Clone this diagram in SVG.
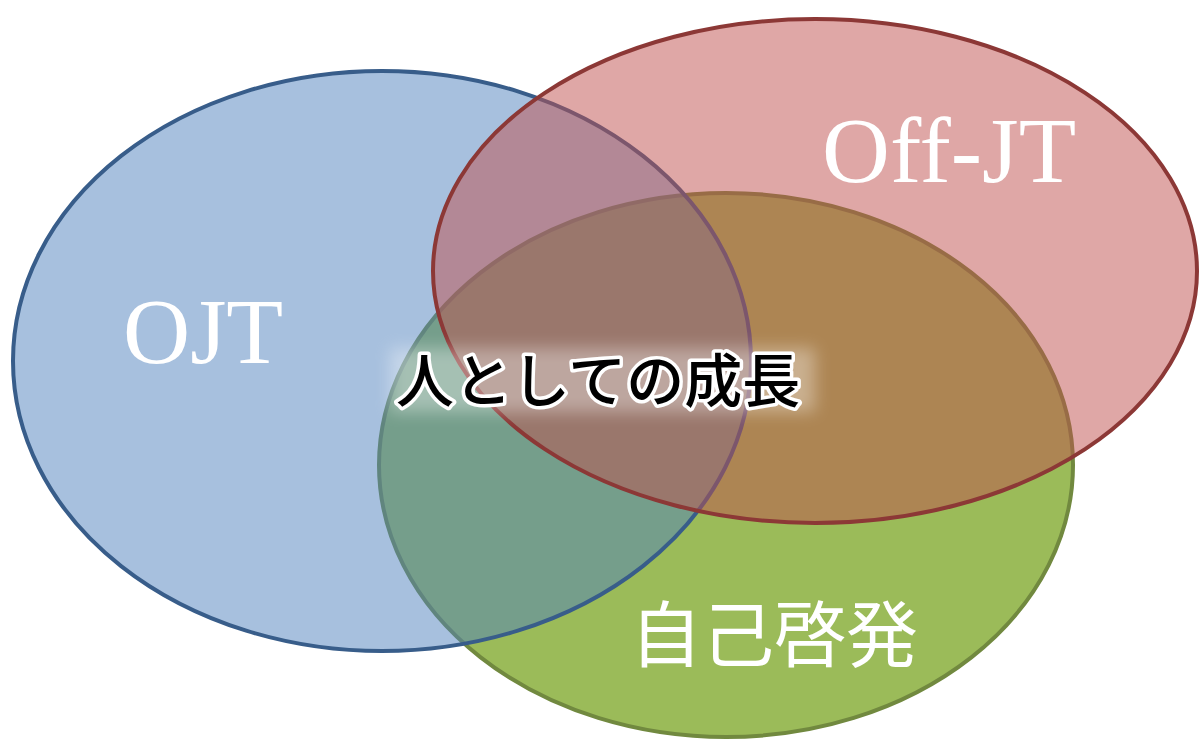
<svg xmlns="http://www.w3.org/2000/svg" width="1200" height="740" viewBox="0 0 1200 740">
<defs>
<style>
.lbl{fill:#ffffff;font-family:"Liberation Serif","Times New Roman",serif}
.cjk{fill:#ffffff;font-family:"Noto Sans CJK JP","Noto Sans",sans-serif}
.center{fill:#000000;stroke:#ffffff;stroke-width:7;stroke-linejoin:round;paint-order:stroke;font-family:"Noto Sans CJK JP","Noto Sans",sans-serif;font-weight:500}
</style>
<filter id="glow" x="-20%" y="-50%" width="140%" height="200%">
<feGaussianBlur stdDeviation="8"/>
</filter>
</defs>
<rect width="1200" height="740" fill="#ffffff"/>
<g id="self-development">
<ellipse cx="726" cy="465" rx="347" ry="272" fill="#9BBB59" stroke="#71893F" stroke-width="4"/>
</g>
<g id="ojt">
<ellipse cx="382" cy="361" rx="369" ry="290" fill="#4F81BD" fill-opacity="0.5" stroke="#385D8A" stroke-width="4"/>
</g>
<g id="off-jt">
<ellipse cx="815" cy="271" rx="382" ry="252" fill="#C0504D" fill-opacity="0.5" stroke="#8C3836" stroke-width="4"/>
</g>
<g id="connectors"></g>
<text class="lbl" x="123" y="363" font-size="93">OJT</text>
<text class="lbl" x="822" y="182" font-size="94">Off-JT</text>
<text class="cjk" x="630" y="661" font-size="72">自己啓発</text>
<g id="center-label">
<rect x="390" y="348" width="425" height="64" fill="#ffffff" opacity="0.35" filter="url(#glow)"/>
<text class="center" x="396" y="402" font-size="58">人としての成長</text>
</g>
</svg>
